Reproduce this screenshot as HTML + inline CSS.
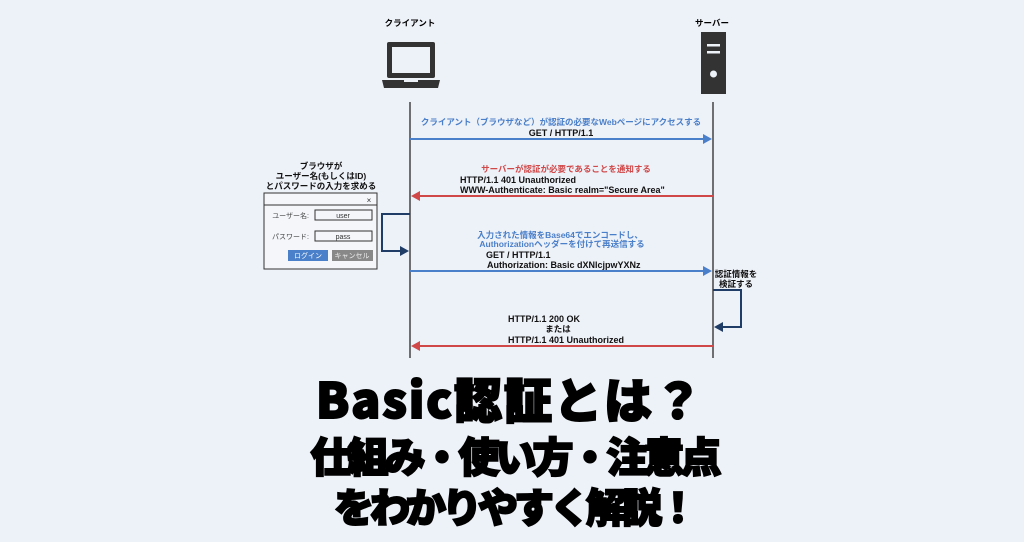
<!DOCTYPE html>
<html><head><meta charset="utf-8"><style>
html,body{margin:0;padding:0;background:#edf1f8;}
body{width:1024px;height:542px;overflow:hidden;position:relative;font-family:"Liberation Sans","Noto Sans CJK JP",sans-serif;}
svg text{font-family:"Liberation Sans","Noto Sans CJK JP",sans-serif;font-weight:bold;}
.t{position:absolute;left:0;width:1024px;text-align:center;font-family:"Noto Sans CJK JP",sans-serif;font-weight:900;color:#000;-webkit-text-stroke:2px #000;white-space:nowrap;}
</style></head><body>
<svg width="1024" height="542" style="position:absolute;left:0;top:0">
<text x="410" y="26" font-size="8.5" text-anchor="middle">クライアント</text>
<text x="712" y="26" font-size="8.5" text-anchor="middle">サーバー</text>
<rect x="387" y="42" width="48" height="36" rx="2" fill="#333"/>
<rect x="392" y="47" width="38" height="26" fill="#edf1f8"/>
<path d="M382 80 H440 L438 88 H384 Z" fill="#333"/>
<rect x="404" y="80" width="14" height="2" fill="#edf1f8"/>
<rect x="701" y="32" width="25" height="62" fill="#333"/>
<rect x="707" y="44" width="13" height="2.5" fill="#edf1f8"/>
<rect x="707" y="51" width="13" height="2.5" fill="#edf1f8"/>
<circle cx="713.5" cy="74" r="3.5" fill="#edf1f8"/>
<line x1="410" y1="102" x2="410" y2="358" stroke="#444" stroke-width="1.5"/>
<line x1="713" y1="102" x2="713" y2="358" stroke="#444" stroke-width="1.5"/>
<g stroke-width="2">
<line x1="410" y1="139" x2="704" y2="139" stroke="#4a7fc9"/>
<line x1="419" y1="196" x2="713" y2="196" stroke="#d04848"/>
<line x1="410" y1="271" x2="704" y2="271" stroke="#4a7fc9"/>
<line x1="419" y1="346" x2="713" y2="346" stroke="#d04848"/>
</g>
<path d="M712 139 L703 134 L703 144Z" fill="#4a7fc9"/>
<path d="M411 196 L420 191 L420 201Z" fill="#d04848"/>
<path d="M712 271 L703 266 L703 276Z" fill="#4a7fc9"/>
<path d="M411 346 L420 341 L420 351Z" fill="#d04848"/>
<path d="M410 214 H382 V251 H402" fill="none" stroke="#1f3d66" stroke-width="2"/>
<path d="M409 251 L400 246 L400 256Z" fill="#1f3d66"/>
<path d="M713 290 H741 V327 H721" fill="none" stroke="#1f3d66" stroke-width="2"/>
<path d="M714 327 L723 322 L723 332Z" fill="#1f3d66"/>
<text x="561" y="125" font-size="8.5" text-anchor="middle" fill="#4a7fc9">クライアント（ブラウザなど）が認証の必要なWebページにアクセスする</text>
<text x="561" y="136" font-size="9" text-anchor="middle" fill="#111">GET / HTTP/1.1</text>
<text x="566" y="172" font-size="8.5" text-anchor="middle" fill="#d04848">サーバーが認証が必要であることを通知する</text>
<text x="460" y="183" font-size="9" fill="#111">HTTP/1.1 401 Unauthorized</text>
<text x="460" y="193" font-size="9" fill="#111">WWW-Authenticate: Basic realm="Secure Area"</text>
<text x="560" y="238" font-size="8.5" text-anchor="middle" fill="#4a7fc9">入力された情報をBase64でエンコードし、</text>
<text x="562" y="247" font-size="8.5" text-anchor="middle" fill="#4a7fc9">Authorizationヘッダーを付けて再送信する</text>
<text x="486" y="258" font-size="9" fill="#111">GET / HTTP/1.1</text>
<text x="487" y="268" font-size="9" fill="#111">Authorization: Basic dXNlcjpwYXNz</text>
<text x="736" y="277" font-size="8.5" text-anchor="middle" fill="#111">認証情報を</text>
<text x="736" y="287" font-size="8.5" text-anchor="middle" fill="#111">検証する</text>
<text x="508" y="322" font-size="9" fill="#111">HTTP/1.1 200 OK</text>
<text x="558" y="332" font-size="8.5" text-anchor="middle" fill="#111">または</text>
<text x="508" y="343" font-size="9" fill="#111">HTTP/1.1 401 Unauthorized</text>
<text x="321" y="169" font-size="8.5" text-anchor="middle" fill="#111">ブラウザが</text>
<text x="321" y="179" font-size="8.5" text-anchor="middle" fill="#111">ユーザー名(もしくはID)</text>
<text x="321" y="189" font-size="8.5" text-anchor="middle" fill="#111">とパスワードの入力を求める</text>
<rect x="264" y="193" width="113" height="76" fill="#f4f6fa" stroke="#333" stroke-width="1"/>
<line x1="264" y1="205" x2="377" y2="205" stroke="#333"/>
<text x="369" y="203" font-size="8" text-anchor="middle" fill="#333" style="font-weight:normal">×</text>
<text x="309" y="218" font-size="7" text-anchor="end" fill="#444" style="font-weight:normal">ユーザー名:</text>
<rect x="315" y="210" width="57" height="10" fill="#f4f6fa" stroke="#333"/>
<text x="343" y="218" font-size="7" text-anchor="middle" fill="#333" style="font-weight:normal">user</text>
<text x="309" y="239" font-size="7" text-anchor="end" fill="#444" style="font-weight:normal">パスワード:</text>
<rect x="315" y="231" width="57" height="10" fill="#f4f6fa" stroke="#333"/>
<text x="343" y="239" font-size="7" text-anchor="middle" fill="#333" style="font-weight:normal">pass</text>
<rect x="288" y="250" width="40" height="11" fill="#4a7fc9"/>
<text x="308" y="258" font-size="7" text-anchor="middle" fill="#fff" style="font-weight:normal">ログイン</text>
<rect x="332" y="250" width="41" height="11" fill="#888"/>
<text x="352" y="258" font-size="7" text-anchor="middle" fill="#eee" style="font-weight:normal">キャンセル</text>
</svg>
<div class="t" style="top:364px;font-size:48px;line-height:66px;left:-2px;letter-spacing:2px">Basic認証とは？</div>
<div class="t" style="top:425px;font-size:41px;line-height:58px;left:2px;letter-spacing:-4px">仕組み・使い方・注意点</div>
<div class="t" style="top:476px;font-size:40px;line-height:58px;left:2px;letter-spacing:-4px">をわかりやすく解説！</div>
</body></html>
